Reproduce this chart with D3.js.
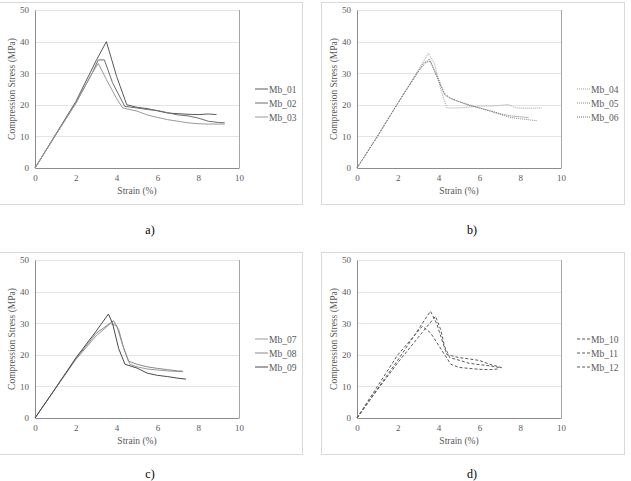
<!doctype html>
<html lang="en">
<head>
<meta charset="utf-8">
<title>Compression stress-strain</title>
<style>
  body { margin: 0; background: #fff; }
  svg { display: block; }
  .tick-label { font-size: 9px; fill: #595959; }
  .axis-title { font-size: 9.5px; fill: #595959; }
  .legend-text { font-size: 9.5px; fill: #595959; }
  .caption { font-size: 12px; fill: #000; text-anchor: middle; }
</style>
</head>
<body>
<script src="https://d3js.org/d3.v7.min.js"></script>
<script>
  // strain (%), stress (MPa) pairs
  const mb01 = [[0,0],[1,10.5],[2,21],[3,34],[3.5,40],[4,29],[4.5,20],[5,19.2],[5.5,18.8],[6,18.1],[6.5,17.4],[7,17.2],[7.5,17.0],[8,16.9],[8.5,17.1],[8.9,16.9]];
  const mb02 = [[0,0],[1,10.3],[2,20.5],[2.8,30],[3.1,34.2],[3.4,34.2],[3.8,27],[4.4,19.5],[5,19],[5.5,18.5],[6,18.2],[6.5,17.5],[7,16.8],[7.5,16.5],[8,15.8],[8.5,14.8],[9,14.4],[9.3,14.3]];
  const mb03 = [[0,0],[1,10.3],[2,20.5],[2.8,30],[3.1,33.1],[3.5,28],[4,22],[4.3,19],[5,18],[5.5,16.8],[6,16],[6.5,15.3],[7,14.8],[7.5,14.3],[8,14],[8.5,13.9],[9.3,13.9]];

  const mb04 = [[0,0],[1,10],[2,20.5],[3,31],[3.5,36.3],[3.8,33],[4.1,25],[4.4,19],[5,19],[5.5,19.3],[6,19.6],[6.5,19.6],[7,19.8],[7.4,20.1],[7.8,19],[8.5,18.9],[9.05,19]];
  const mb05 = [[0,0],[1,10],[2,20.5],[3,30.5],[3.55,34.6],[3.9,29],[4.3,23],[4.6,22],[5,21],[5.5,20],[6,19],[6.5,18],[7,17],[7.5,16],[8,15.6],[8.5,15.2],[8.8,15]];
  const mb06 = [[0,0],[1,10],[2,20.5],[3,30.5],[3.3,33.5],[3.6,33.7],[4,28],[4.3,23.5],[4.6,22],[5,21],[5.5,19.8],[6,19],[6.5,18.2],[7,17.2],[7.5,16.5],[8,16.2],[8.4,16]];

  const mb07 = [[0,0],[1,9.3],[2,18.5],[3,26],[3.7,29.9],[4,29.2],[4.3,23],[4.65,17],[5,16.2],[5.5,15.5],[6,15.2],[6.5,14.9],[7,14.7],[7.25,14.7]];
  const mb08 = [[0,0],[1,9.3],[2,18.7],[3,26.8],[3.85,30.8],[4.1,28],[4.35,22],[4.58,18],[5,17],[5.5,16.2],[6,15.7],[6.5,15.3],[7,14.9],[7.26,14.8]];
  const mb09 = [[0,0],[1,9.4],[2,19],[3,27.5],[3.6,32.9],[3.8,30],[4.1,22],[4.41,17],[5,15.8],[5.5,14.2],[6,13.5],[6.5,13.1],[7,12.6],[7.4,12.3]];

  const mb10 = [[0,0],[1,10],[2,20],[2.8,26],[3.2,29],[3.6,27],[4,23],[4.6,17],[5,16],[5.5,15.7],[6,15.4],[6.5,15.3],[6.9,15.5]];
  const mb11 = [[0,0],[1,9.2],[2,18.3],[2.8,26],[3.6,33.8],[3.9,30],[4.2,24],[4.4,20.1],[5,19.1],[5.5,18.7],[6,18.2],[6.5,17],[6.85,16.4],[7.1,15.9]];
  const mb12 = [[0,0],[1,8.9],[2,17.5],[3,25.5],[3.85,32.2],[4.1,28],[4.3,22.5],[4.55,19.1],[5,18.3],[5.5,17.3],[6,16.9],[6.5,16.5],[7.07,15.9]];

  const xTicks = [0, 2, 4, 6, 8, 10];
  const yTicks = [0, 10, 20, 30, 40, 50];
  const captions = ['a)', 'b)', 'c)', 'd)'];

  const panels = [
    { dx: 0,   dy: 0,   names: ['Mb_01', 'Mb_02', 'Mb_03'], data: [mb01, mb02, mb03], colors: ['#5a5a5a', '#6e6e6e', '#9a9a9a'], dash: null },
    { dx: 322, dy: 0,   names: ['Mb_04', 'Mb_05', 'Mb_06'], data: [mb04, mb05, mb06], colors: ['#a0a0a0', '#8a8a8a', '#6e6e6e'], dash: '1,1' },
    { dx: 0,   dy: 250, names: ['Mb_07', 'Mb_08', 'Mb_09'], data: [mb07, mb08, mb09], colors: ['#9a9a9a', '#8a8a8a', '#4a4a4a'], dash: null },
    { dx: 322, dy: 250, names: ['Mb_10', 'Mb_11', 'Mb_12'], data: [mb10, mb11, mb12], colors: ['#5a5a5a', '#5a5a5a', '#5a5a5a'], dash: '3,2' }
  ];

  const W = 631, H = 481;
  const plotLeft = 35, plotTop = 10, plotW = 204, plotH = 158;
  const serif = "'Times New Roman', Times, 'Liberation Serif', 'DejaVu Serif', serif";

  const svg = d3.select('body').append('svg')
      .attr('width', W).attr('height', H);

  const x = d3.scaleLinear().domain([0, 10]).range([0, plotW]);
  const y = d3.scaleLinear().domain([0, 50]).range([plotH, 0]);

  const line = d3.line().x(d => x(d[0])).y(d => y(d[1]));

  panels.forEach(function (p, i) {
    const g = svg.append('g')
        .attr('transform', `translate(${plotLeft + p.dx},${plotTop + p.dy})`);

    // frame round the chart
    g.append('rect')
        .attr('x', -35.5).attr('y', -7.5)
        .attr('width', 303).attr('height', 202)
        .attr('fill', 'none').attr('stroke', '#d9d9d9').attr('stroke-width', 1);

    // gridlines
    g.append('g').selectAll('line').data(yTicks.slice(1)).enter().append('line')
        .attr('x1', 0).attr('x2', plotW)
        .attr('y1', d => Math.round(y(d)) + 0.5).attr('y2', d => Math.round(y(d)) + 0.5)
        .attr('stroke', '#e4e4e4');

    // axes
    const yAxis = g.append('g').call(d3.axisLeft(y).tickValues(yTicks).tickSize(0).tickPadding(6));
    const xAxis = g.append('g').attr('transform', `translate(0,${plotH})`)
        .call(d3.axisBottom(x).tickValues(xTicks).tickSize(0).tickPadding(7));
    [yAxis, xAxis].forEach(a => {
      a.attr('font-family', null).attr('font-size', null);
      a.select('.domain').attr('stroke', '#8c8c8c');
      a.selectAll('text').attr('class', 'tick-label').attr('fill', null)
          .style('font-family', serif);
    });

    // right hand edge line
    g.append('line')
        .attr('x1', plotW + 0.5).attr('x2', plotW + 0.5)
        .attr('y1', 0).attr('y2', plotH)
        .attr('stroke', '#a6a6a6');

    // series
    g.append('g').selectAll('path').data(p.data).enter().append('path')
        .attr('d', line)
        .attr('fill', 'none')
        .attr('stroke', (d, k) => p.colors[k])
        .attr('stroke-width', 1)
        .attr('stroke-dasharray', p.dash);

    // axis titles
    g.append('text').attr('class', 'axis-title')
        .attr('x', plotW / 2).attr('y', plotH + 26)
        .attr('text-anchor', 'middle')
        .style('font-family', serif)
        .text('Strain (%)');

    g.append('text').attr('class', 'axis-title')
        .attr('transform', `translate(${-20},${plotH / 2}) rotate(-90)`)
        .attr('text-anchor', 'middle')
        .style('font-family', serif)
        .text('Compression Stress (MPa)');

    // legend
    const leg = g.append('g').attr('transform', `translate(${plotW + 16},${79})`);
    p.names.forEach(function (name, k) {
      leg.append('line')
          .attr('x1', 0).attr('x2', 13)
          .attr('y1', k * 14).attr('y2', k * 14)
          .attr('stroke', p.colors[k])
          .attr('stroke-dasharray', p.dash);
      leg.append('text').attr('class', 'legend-text')
          .attr('x', 14).attr('y', k * 14 + 3.5)
          .style('font-family', serif)
          .text(name);
    });

    // caption (bottom row sits at the page edge, keep it inside)
    g.append('text').attr('class', 'caption')
        .attr('x', 115).attr('y', Math.min(plotH + 66, H - 3 - plotTop - p.dy))
        .style('font-family', serif)
        .text(captions[i]);
  });
</script>
</body>
</html>
